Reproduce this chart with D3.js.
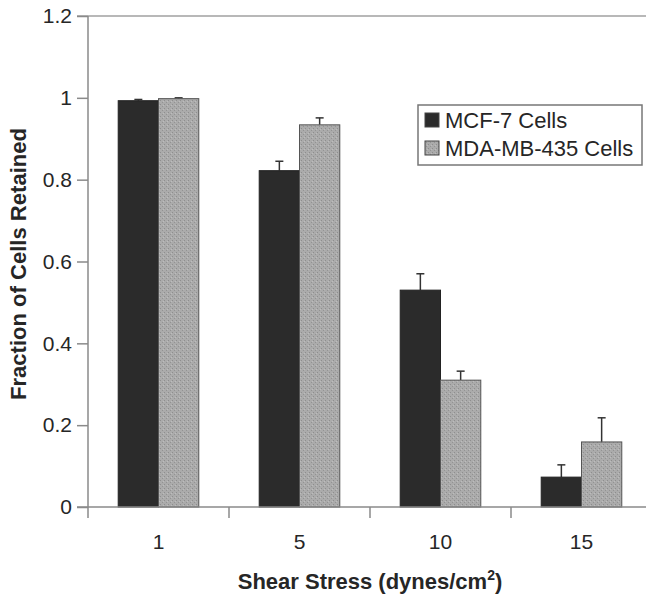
<!DOCTYPE html>
<html>
<head>
<meta charset="utf-8">
<script src="https://cdn.jsdelivr.net/npm/d3@7"></script>
<style>
  body { margin: 0; background: #fff; }
  svg { display: block; font-family: "Liberation Sans", Arial, sans-serif; }
</style>
</head>
<body>
<div id="chart"></div>
<script>
// shear stress levels and retained fractions
const stresses = ['1', '5', '10', '15'];
const seriesNames = ['MCF-7 Cells', 'MDA-MB-435 Cells'];
const mcf7 = [0.993, 0.822, 0.530, 0.073];
const mcf7Err = [0.003, 0.023, 0.040, 0.030];
const mda435 = [0.998, 0.934, 0.310, 0.159];
const mdaErr = [0.002, 0.017, 0.022, 0.059];
const yTicks = [0, 0.2, 0.4, 0.6, 0.8, 1, 1.2];

const width = 646, height = 597;
const margin = { top: 16, right: -6, bottom: 90, left: 88 };

const svg = d3.select('#chart').append('svg')
    .attr('width', width)
    .attr('height', height);

// stipple for the MDA bars
const defs = svg.append('defs');
const pat = defs.append('pattern')
    .attr('id', 'stipple')
    .attr('patternUnits', 'userSpaceOnUse')
    .attr('width', 4).attr('height', 4);
pat.append('rect').attr('width', 4).attr('height', 4).attr('fill', '#ababab');
pat.append('rect').attr('x', 0).attr('y', 0).attr('width', 1).attr('height', 1).attr('fill', '#8e8e8e');
pat.append('rect').attr('x', 2).attr('y', 2).attr('width', 1).attr('height', 1).attr('fill', '#939393');
pat.append('rect').attr('x', 3).attr('y', 1).attr('width', 1).attr('height', 1).attr('fill', '#bdbdbd');

const x0 = d3.scaleBand()
    .domain(stresses)
    .range([margin.left, width - margin.right])
    .paddingInner(0)
    .paddingOuter(0);

const x1 = d3.scaleBand()
    .domain(seriesNames)
    .range([0, x0.bandwidth()])
    .paddingOuter(0.75)
    .paddingInner(0);

const y = d3.scaleLinear()
    .domain([0, 1.2])
    .range([height - margin.bottom, margin.top]);

const axisColor = '#8a8a8a';
const textColor = '#262626';
const font = '"Liberation Sans", Arial, sans-serif';

// top border line
svg.append('line')
    .attr('x1', margin.left - 11).attr('x2', width)
    .attr('y1', y(1.2)).attr('y2', y(1.2))
    .attr('stroke', '#a0a0a0').attr('stroke-width', 1.5);

// y axis
const yAxis = svg.append('g')
    .attr('transform', `translate(${margin.left},0)`)
    .call(d3.axisLeft(y).tickValues(yTicks).tickSize(11).tickPadding(5)
        .tickFormat(d => d === 0 ? '0' : d3.format('')(+d.toFixed(1))));
yAxis.select('.domain').remove();
yAxis.selectAll('.tick line').attr('stroke', axisColor).attr('stroke-width', 1.5);
yAxis.selectAll('.tick text')
    .attr('font-size', 21).attr('fill', textColor).attr('font-family', font);
svg.append('line')
    .attr('x1', margin.left).attr('x2', margin.left)
    .attr('y1', y(1.2)).attr('y2', y(0) + 11)
    .attr('stroke', axisColor).attr('stroke-width', 1.5);

// bars
const groups = svg.append('g').selectAll('g')
    .data(stresses)
    .join('g')
    .attr('transform', d => `translate(${x0(d)},0)`);

const rows = stresses.map((s, i) => [
    { name: seriesNames[0], v: mcf7[i], e: mcf7Err[i] },
    { name: seriesNames[1], v: mda435[i], e: mdaErr[i] }
]);

groups.each(function(s, i) {
    const g = d3.select(this);
    rows[i].forEach((r, k) => {
        const bx = x1(r.name);
        const bw = x1.bandwidth();
        // error bar (upper only)
        g.append('line')
            .attr('x1', bx + bw / 2).attr('x2', bx + bw / 2)
            .attr('y1', y(r.v)).attr('y2', y(r.v + r.e))
            .attr('stroke', '#333').attr('stroke-width', 1.5);
        g.append('line')
            .attr('x1', bx + bw / 2 - 4).attr('x2', bx + bw / 2 + 4)
            .attr('y1', y(r.v + r.e)).attr('y2', y(r.v + r.e))
            .attr('stroke', '#333').attr('stroke-width', 1.5);
        g.append('rect')
            .attr('x', bx).attr('width', bw)
            .attr('y', y(r.v)).attr('height', y(0) - y(r.v))
            .attr('fill', k === 0 ? '#2b2b2b' : 'url(#stipple)')
            .attr('stroke', k === 0 ? '#222' : '#555')
            .attr('stroke-width', 1);
    });
});

// x axis
const xAxis = svg.append('g')
    .attr('transform', `translate(0,${y(0)})`)
    .call(d3.axisBottom(x0).tickSize(0).tickPadding(27));
xAxis.select('.domain').remove();
xAxis.selectAll('.tick text')
    .attr('font-size', 21).attr('fill', textColor).attr('font-family', font);
svg.append('line')
    .attr('x1', margin.left - 11).attr('x2', width)
    .attr('y1', y(0)).attr('y2', y(0))
    .attr('stroke', axisColor).attr('stroke-width', 1.5);
// tick marks between categories
svg.append('g').selectAll('line')
    .data(stresses.slice(1))
    .join('line')
    .attr('x1', d => x0(d)).attr('x2', d => x0(d))
    .attr('y1', y(0)).attr('y2', y(0) + 11)
    .attr('stroke', axisColor).attr('stroke-width', 1.5);

// axis titles
const xt = svg.append('text')
    .attr('x', 370).attr('y', 589)
    .attr('text-anchor', 'middle')
    .attr('font-size', 22).attr('font-weight', 'bold').attr('fill', textColor);
xt.append('tspan').text('Shear Stress (dynes/cm');
xt.append('tspan').attr('dy', -9).attr('font-size', 14).text('2');
xt.append('tspan').attr('dy', 9).text(')');

svg.append('text')
    .attr('transform', 'translate(26,264) rotate(-90)')
    .attr('text-anchor', 'middle')
    .attr('font-size', 22).attr('font-weight', 'bold').attr('fill', textColor)
    .attr('textLength', 272).attr('lengthAdjust', 'spacingAndGlyphs')
    .text('Fraction of Cells Retained');

// legend
const legend = svg.append('g');
legend.append('rect')
    .attr('x', 418).attr('y', 105).attr('width', 224).attr('height', 60)
    .attr('fill', '#fff').attr('stroke', '#777').attr('stroke-width', 1.5);
seriesNames.forEach((n, k) => {
    legend.append('rect')
        .attr('x', 425).attr('y', 113 + k * 28).attr('width', 14).attr('height', 14)
        .attr('fill', k === 0 ? '#2b2b2b' : 'url(#stipple)')
        .attr('stroke', '#444').attr('stroke-width', 1);
    legend.append('text')
        .attr('x', 445).attr('y', 128 + k * 28)
        .attr('font-size', 22).attr('fill', textColor)
        .text(n);
});
</script>
</body>
</html>
